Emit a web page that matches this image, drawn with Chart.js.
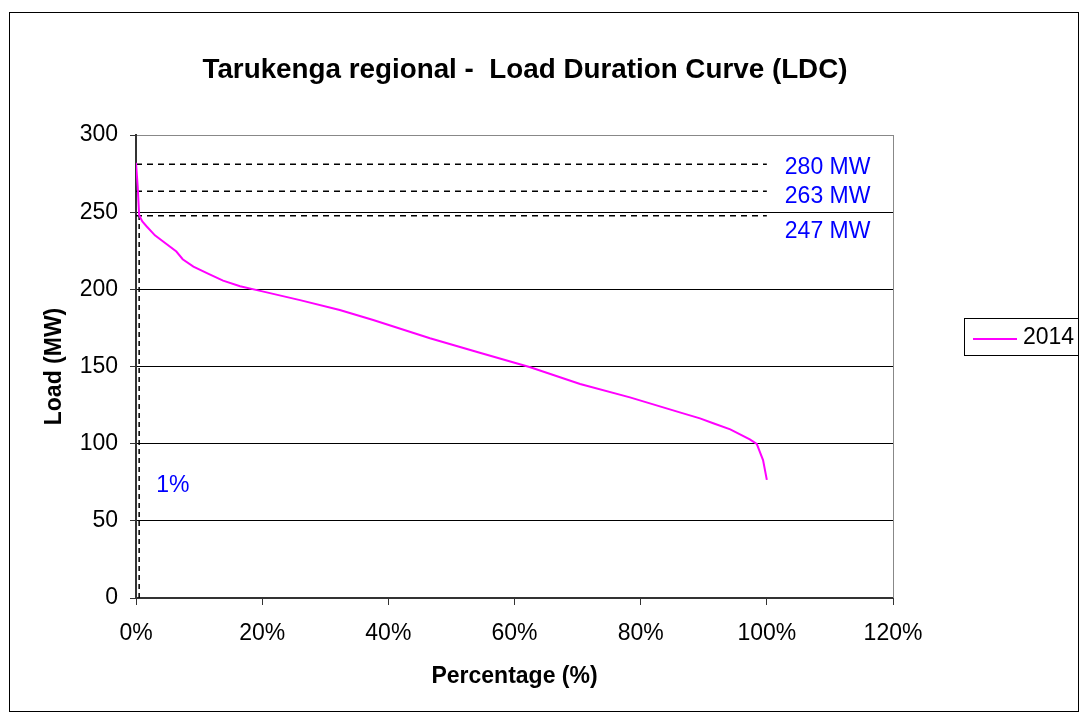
<!DOCTYPE html>
<html>
<head>
<meta charset="utf-8">
<script src="https://cdn.jsdelivr.net/npm/chart.js@4"></script>
<style>
  html, body { margin: 0; background: #fff; }
</style>
</head>
<body>
<canvas id="c" width="1086" height="724"></canvas>
<script>
// load duration curve (percent of time, MW)
const percent = [0, 0.27, 0.5, 1, 1.7, 3, 4.3, 6.4, 7.4, 9.1, 11.5, 13.8, 16.5, 19.7, 26, 32.3, 37.6, 46.6, 54.5, 62.5, 70.4, 78.3, 86.2, 89.4, 91.5, 94.2, 97.3, 98.4, 99.4, 100];
const load = [282, 266.5, 248, 244, 240.7, 235, 231, 224.5, 219.5, 214.7, 210, 205.6, 202, 199, 193, 186.6, 180.1, 168.3, 158.9, 149.5, 138.7, 130, 120.3, 116.4, 113.2, 109.3, 102.8, 99.8, 89.4, 76.5];

// reference levels (dashed lines) and their labels
const refLevels = [281, 263.5, 247.7];
const refLabels = ["280 MW", "263 MW", "247 MW"];
const refEnd = 100;
const onePct = 0.5; // where the 1% marker line sits
const onePctLabel = "1%";

const titleText = "Tarukenga regional -  Load Duration Curve (LDC)";
const seriesName = "2014";

const xTicks = [0, 20, 40, 60, 80, 100, 120];
const yTicks = [0, 50, 100, 150, 200, 250, 300];

const FONT = "'Liberation Sans', Arial, sans-serif";

window.onload = () => {
  const ctx = document.getElementById("c").getContext("2d");

  const curve = percent.map((p, i) => ({ x: p, y: load[i] }));

  const dashed = refLevels.map((lv) => ({
    data: [{ x: 0, y: lv }, { x: refEnd, y: lv }],
    borderColor: "#000",
    borderWidth: 1.5,
    borderDash: [6, 5],
    pointRadius: 0,
    showLine: true,
  }));
  dashed.push({
    data: [{ x: onePct, y: 0 }, { x: onePct, y: refLevels[2] }],
    borderColor: "#000",
    borderWidth: 1.5,
    borderDash: [5, 4],
    pointRadius: 0,
    showLine: true,
  });

  const extras = {
    id: "extras",
    afterDraw(chart) {
      const c = chart.ctx;
      const a = chart.chartArea;
      const xs = chart.scales.x;
      const ys = chart.scales.y;
      c.save();

      // plot area right border
      c.strokeStyle = "#888";
      c.lineWidth = 1;
      c.beginPath();
      c.moveTo(Math.round(a.right) + 0.5, a.top);
      c.lineTo(Math.round(a.right) + 0.5, a.bottom);
      c.stroke();

      // outer frame
      c.strokeStyle = "#000";
      c.strokeRect(9.5, 12.5, 1069, 699);

      // title
      c.fillStyle = "#000";
      c.font = "bold 27.8px " + FONT;
      c.textAlign = "center";
      c.textBaseline = "middle";
      c.fillText(titleText, 525, 70);

      // level labels
      c.fillStyle = "#0000FF";
      c.font = "23px " + FONT;
      c.textAlign = "left";
      const lx = xs.getPixelForValue(refEnd) + 18;
      c.fillText(refLabels[0], lx, ys.getPixelForValue(refLevels[0]) + 3);
      c.fillText(refLabels[1], lx, ys.getPixelForValue(refLevels[1]) + 5);
      c.fillText(refLabels[2], lx, ys.getPixelForValue(refLevels[2]) + 16);
      c.fillText(onePctLabel, xs.getPixelForValue(onePct) + 17, ys.getPixelForValue(73));

      // legend
      c.strokeStyle = "#000";
      c.lineWidth = 1;
      c.strokeRect(964.5, 318.5, 114, 37);
      c.strokeStyle = "#FF00FF";
      c.lineWidth = 2;
      c.beginPath();
      c.moveTo(973, 339);
      c.lineTo(1017, 339);
      c.stroke();
      c.fillStyle = "#000";
      c.font = "23px " + FONT;
      c.fillText(seriesName, 1023, 338);

      c.restore();
    },
  };

  new Chart(ctx, {
    type: "scatter",
    data: {
      datasets: [
        {
          label: seriesName,
          data: curve,
          borderColor: "#FF00FF",
          borderWidth: 2,
          pointRadius: 0,
          showLine: true,
          tension: 0,
        },
        ...dashed,
      ],
    },
    options: {
      responsive: false,
      animation: false,
      layout: { padding: { left: 30, top: 135, right: 193, bottom: 30 } },
      plugins: { legend: { display: false }, title: { display: false }, tooltip: { enabled: false } },
      scales: {
        x: {
          type: "linear",
          min: 0,
          max: 120,
          afterBuildTicks: (s) => { s.ticks = xTicks.map((v) => ({ value: v })); },
          afterFit: (s) => { s.height = 96; },
          ticks: {
            callback: (v) => v + "%",
            font: { family: FONT, size: 23 },
            color: "#000",
            padding: 15,
            maxRotation: 0,
          },
          grid: { drawOnChartArea: false, tickLength: 7, color: "#333" },
          border: { color: "#333", width: 2 },
          title: {
            display: true,
            text: "Percentage (%)",
            font: { family: FONT, size: 23, weight: "bold" },
            color: "#000",
            padding: { top: 0, bottom: 4 },
          },
        },
        y: {
          min: 0,
          max: 300,
          afterBuildTicks: (s) => { s.ticks = yTicks.map((v) => ({ value: v })); },
          afterFit: (s) => { s.width = 106; },
          ticks: {
            font: { family: FONT, size: 23 },
            color: "#000",
            padding: 12,
          },
          grid: {
            color: (g) => (g.tick && g.tick.value === 300 ? "#888" : "#000"),
            tickColor: "#333",
            tickLength: 6,
          },
          border: { color: "#333", width: 2 },
          title: {
            display: true,
            text: "Load (MW)",
            font: { family: FONT, size: 23, weight: "bold" },
            color: "#000",
            padding: { top: 11, bottom: 0 },
          },
        },
      },
    },
    plugins: [extras],
  });
};
</script>
</body>
</html>
